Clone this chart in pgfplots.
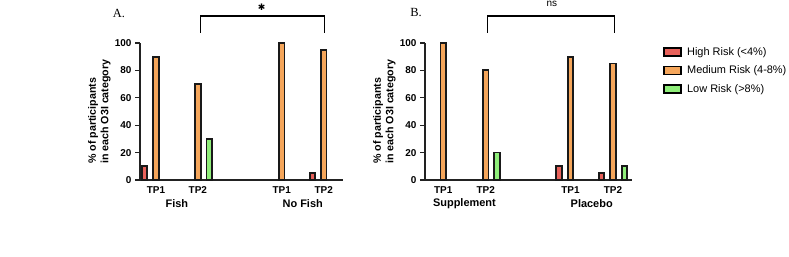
\documentclass[border=0pt]{standalone}
\usepackage{pgfplots}
\pgfplotsset{compat=1.18}
\usepackage{fontspec}
\setmainfont{Liberation Sans}
\newfontfamily\seriffont{Liberation Serif}
\newfontfamily\symfont{DejaVu Sans}
\definecolor{cRed}{HTML}{E8615A}
\definecolor{cOrange}{HTML}{F5A65B}
\definecolor{cGreen}{HTML}{8FEE7A}
\definecolor{axc}{HTML}{222222}

\pgfplotsset{
  panel/.style={
    scale only axis, height=137bp,
    axis x line*=bottom, axis y line*=left,
    ymin=0, ymax=100, ytick={0,20,...,100},
    xtick={0,1,3,4}, xticklabels={TP1,TP2,TP1,TP2},
    x tick style={draw=none},
    y tick style={line width=1.2bp, axc},
    tick align=outside, major tick length=5bp,
    ticklabel style={font=\bfseries\fontsize{10}{12}\selectfont},
    xticklabel style={yshift=2bp},
    /pgf/number format/assume math mode=true,
    axis line style={line width=1.2bp, axc},
    clip=false,
    ylabel={\% of participants\\in each O3I category},
  },
  bar/.style={ybar, bar width=5.5bp, bar shift=0pt, draw=black!90, line width=1.8bp, fill=#1,
    legend image code/.code={\draw[fill=#1, draw=black, line width=1.4bp] (0bp,-4bp) rectangle (17bp,4bp);}},
}

\begin{document}
\begin{tikzpicture}
\path[use as bounding box] (0,0) rectangle (789bp,257bp);

\begin{axis}[panel, at={(140bp,77bp)}, anchor=south west, width=203bp,
  xmin=-0.38, xmax=4.46,
  ylabel style={at={(axis description cs:-0.2,0.117)}, anchor=west, inner sep=0pt,
    font=\bfseries\fontsize{10.7}{12.5}\selectfont, align=left}]
\addplot[bar=cRed] coordinates {(-0.27,10) (3.73,5)};
\addplot[bar=cOrange] coordinates {(0,90) (1,70) (3,100) (4,95)};
\addplot[bar=cGreen] coordinates {(1.27,30)};
\draw[line width=1.3bp] (axis cs:1.07,107.3) -- (axis cs:1.07,119.7) -- (axis cs:4.02,119.7) -- (axis cs:4.02,107.3);
\node[font=\symfont\fontsize{9}{9}\selectfont] at (axis cs:2.52,126.3) {✱};
\node[font=\bfseries\fontsize{11}{13}\selectfont] at (axis cs:0.5,0) [yshift=-24bp] {Fish};
\node[font=\bfseries\fontsize{11}{13}\selectfont] at (axis cs:3.5,0) [yshift=-24bp] {No Fish};
\end{axis}

\begin{axis}[panel, at={(425bp,77bp)}, anchor=south west, width=207bp,
  xmin=-0.43, xmax=4.45,
  ylabel style={at={(axis description cs:-0.196,0.117)}, anchor=west, inner sep=0pt,
    font=\bfseries\fontsize{10.7}{12.5}\selectfont, align=left},
  legend style={at={(axis description cs:1.15,0.98)}, anchor=north west, draw=none, fill=none,
    inner sep=0pt, font=\fontsize{11}{13}\selectfont, row sep=6bp,
    nodes={inner sep=1.5bp}, /tikz/every odd column/.append style={column sep=4bp}},
  legend cell align=left]
\addplot[bar=cRed] coordinates {(2.73,10) (3.73,5)};
\addlegendentry{High Risk (<4\%)}
\addplot[bar=cOrange] coordinates {(0,100) (1,80) (3,90) (4,85)};
\addlegendentry{Medium Risk (4-8\%)}
\addplot[bar=cGreen] coordinates {(1.27,20) (4.27,10)};
\addlegendentry{Low Risk (>8\%)}
\draw[line width=1.3bp] (axis cs:1.05,107.3) -- (axis cs:1.05,119.7) -- (axis cs:4.03,119.7) -- (axis cs:4.03,107.3);
\node[font=\fontsize{10}{10}\selectfont] at (axis cs:2.56,128.5) {ns};
\node[font=\bfseries\fontsize{11}{13}\selectfont] at (axis cs:0.5,0) [yshift=-24bp] {Supplement};
\node[font=\bfseries\fontsize{11}{13}\selectfont] at (axis cs:3.5,0) [yshift=-24bp] {Placebo};
\end{axis}

\node[font=\seriffont\fontsize{12.5}{13}\selectfont] at (119bp,244bp) {A.};
\node[font=\seriffont\fontsize{12.5}{13}\selectfont] at (416bp,244bp) {B.};
\end{tikzpicture}
\end{document}
